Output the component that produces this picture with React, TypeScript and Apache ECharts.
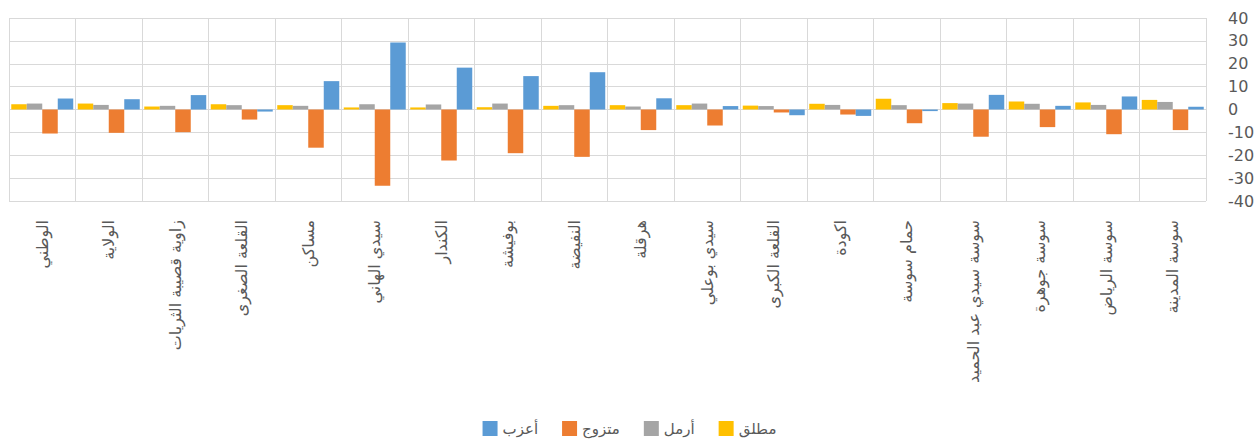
import React, { useEffect, useRef } from "react";
import * as echarts from "echarts";

const categories = [
  "الوطني",
  "الولاية",
  "زاوية قصيبة الثريات",
  "القلعة الصغرى",
  "مساكن",
  "سيدي الهاني",
  "الكندار",
  "بوفيشة",
  "النفيضة",
  "هرقلة",
  "سيدي بوعلي",
  "القلعة الكبرى",
  "اكودة",
  "حمام سوسة",
  "سوسة سيدي عبد الحميد",
  "سوسة جوهرة",
  "سوسة الرياض",
  "سوسة المدينة",
];

const divorced = [2.3, 2.6, 1.3, 2.3, 1.9, 0.9, 0.9, 1.0, 1.6, 1.9, 1.9, 1.7, 2.5, 4.7, 2.8, 3.5, 3.1, 4.2];
const widowed = [2.6, 2.0, 1.6, 1.9, 1.6, 2.3, 2.2, 2.6, 1.9, 1.3, 2.6, 1.5, 2.0, 1.9, 2.6, 2.5, 2.0, 3.3];
const married = [-10.5, -10.2, -9.9, -4.4, -16.7, -33.3, -22.3, -19.1, -20.7, -9.0, -7.0, -1.3, -2.2, -6.0, -11.9, -7.7, -10.8, -9.0];
const single = [4.8, 4.5, 6.3, -0.9, 12.4, 29.3, 18.3, 14.6, 16.3, 4.9, 1.5, -2.5, -2.8, -0.7, 6.4, 1.6, 5.7, 1.2];

const yTicks = { min: -40, max: 40, interval: 10 };

const names = { single: "أعزب", married: "متزوج", widowed: "أرمل", divorced: "مطلق" };

const FONT = "'DejaVu Sans', 'Noto Sans', sans-serif";

export default function App() {
  const ref = useRef<HTMLDivElement>(null);
  useEffect(() => {
    if (!ref.current) return;
    const chart = echarts.init(ref.current, null, { renderer: "svg" });
    const bar = (name: string, data: number[], color: string) => ({
      name,
      type: "bar",
      data,
      barWidth: 15.5,
      barGap: "0%",
      itemStyle: { color },
    });
    chart.setOption({
      animation: false,
      textStyle: { fontFamily: FONT },
      grid: { left: 9, right: 53, top: 18, bottom: 242, containLabel: false },
      legend: {
        bottom: 2,
        left: "center",
        data: [names.single, names.married, names.widowed, names.divorced],
        itemWidth: 15,
        itemHeight: 15,
        itemGap: 24,
        icon: "rect",
        textStyle: { color: "#595959", fontSize: 15, fontFamily: FONT },
      },
      xAxis: {
        type: "category",
        data: categories,
        axisLine: { show: false, onZero: false },
        axisTick: { show: false },
        splitLine: { show: true, lineStyle: { color: "#d9d9d9", width: 1 } },
        axisLabel: {
          rotate: 90,
          interval: 0,
          margin: 19,
          color: "#595959",
          fontSize: 16,
          fontFamily: FONT,
        },
      },
      yAxis: {
        type: "value",
        position: "right",
        min: yTicks.min,
        max: yTicks.max,
        interval: yTicks.interval,
        axisLine: { show: false },
        axisTick: { show: false },
        splitLine: { show: true, lineStyle: { color: "#d9d9d9", width: 1 } },
        axisLabel: { color: "#595959", fontSize: 16, margin: 22, fontFamily: FONT },
      },
      series: [
        bar(names.divorced, divorced, "#FFC000"),
        bar(names.widowed, widowed, "#A5A5A5"),
        bar(names.married, married, "#ED7D31"),
        bar(names.single, single, "#5B9BD5"),
      ],
    });
    return () => chart.dispose();
  }, []);
  return <div ref={ref} style={{ width: 1259, height: 443, position: "absolute", left: 0, top: 0 }} />;
}
